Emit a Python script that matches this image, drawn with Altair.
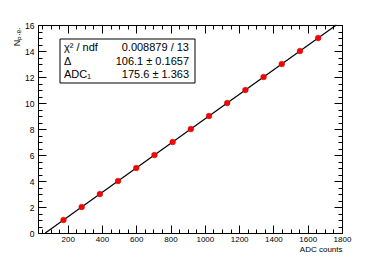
import altair as alt
import pandas as pd

# Data
n_pe = [1, 2, 3, 4, 5, 6, 7, 8, 9, 10, 11, 12, 13, 14, 15]
adc = [175.6, 281.7, 387.8, 493.9, 600.0, 706.1, 812.2, 918.3, 1024.4,
       1130.5, 1236.6, 1342.7, 1448.8, 1554.9, 1661.0]

fit_n = [0, 16]
fit_adc = [69.5, 1767.1]

x_major = [200, 400, 600, 800, 1000, 1200, 1400, 1600, 1800]
x_minor = [50, 100, 150, 200, 250, 300, 350, 400, 450, 500, 550, 600, 650, 700, 750,
           800, 850, 900, 950, 1000, 1050, 1100, 1150, 1200, 1250, 1300, 1350, 1400,
           1450, 1500, 1550, 1600, 1650, 1700, 1750, 1800]
y_major = [0, 2, 4, 6, 8, 10, 12, 14, 16]
y_minor = [0, 0.5, 1, 1.5, 2, 2.5, 3, 3.5, 4, 4.5, 5, 5.5, 6, 6.5, 7, 7.5, 8, 8.5, 9,
           9.5, 10, 10.5, 11, 11.5, 12, 12.5, 13, 13.5, 14, 14.5, 15, 15.5, 16]

stat_names = ["χ² / ndf", "Δ", "ADC₁"]
stat_values = ["0.008879 / 13", "106.1 ± 0.1657", "175.6 ± 1.363"]

W, H = 304, 208
FONT = "Liberation Sans"

df = pd.DataFrame({"adc": adc, "n": n_pe})
fit_df = pd.DataFrame({"adc": fit_adc, "n": fit_n})

xs = alt.Scale(domain=[27, 1800], nice=False, zero=False)
ys = alt.Scale(domain=[0, 16], nice=False, zero=False)

base = alt.Chart(df)

points = base.mark_circle(size=32, color="#ff0000", opacity=1,
                          stroke="#c00000", strokeWidth=0.5).encode(
    x=alt.X("adc:Q", scale=xs,
            axis=alt.Axis(orient="bottom", values=x_major, format="d", ticks=False,
                          tickSize=0, domain=False, grid=False, labelFont=FONT,
                          labelFontSize=8, labelColor="black", labelPadding=2,
                          labelFlush=False,
                          title="ADC counts", titleFont=FONT, titleFontSize=8,
                          titleFontWeight="normal", titleColor="black",
                          titleX=W, titleY=18, titleAlign="right",
                          titleBaseline="alphabetic", titleAnchor="end")),
    y=alt.Y("n:Q", scale=ys,
            axis=alt.Axis(orient="left", values=y_major, format="d", ticks=False,
                          tickSize=0, domain=False, grid=False, labelFont=FONT,
                          labelFontSize=8.5, labelColor="black", labelPadding=4,
                          labelFlush=False,
                          title="Nₚ.ₑ.", titleFont=FONT, titleFontSize=9,
                          titleFontWeight="normal", titleColor="black",
                          titleX=-22, titleY=2, titleAngle=270, titleAlign="right",
                          titleBaseline="middle")),
)

line = alt.Chart(fit_df).mark_line(color="black", strokeWidth=1.2).encode(
    x=alt.X("adc:Q", scale=xs, axis=None),
    y=alt.Y("n:Q", scale=ys, axis=None),
)


def tick_layer(xorient, yorient, xvals, yvals, size):
    return base.mark_point(opacity=0).encode(
        x=alt.X("adc:Q", scale=xs,
                axis=alt.Axis(orient=xorient, offset=-H, values=xvals, labels=False,
                              domain=False, grid=False, tickSize=size, tickColor="black",
                              tickWidth=1, title=None)),
        y=alt.Y("n:Q", scale=ys,
                axis=alt.Axis(orient=yorient, offset=-W, values=yvals, labels=False,
                              domain=False, grid=False, tickSize=size, tickColor="black",
                              tickWidth=1, title=None)),
    )


t1 = tick_layer("top", "right", x_major, y_major, 8)
t2 = tick_layer("bottom", "left", x_major, y_major, 8)
t3 = tick_layer("top", "right", x_minor, y_minor, 4)
t4 = tick_layer("bottom", "left", x_minor, y_minor, 4)

one = pd.DataFrame({"k": [0]})
box = alt.Chart(one).mark_rect(fill="white", stroke="black", strokeWidth=1).encode(
    x=alt.value(22), x2=alt.value(157), y=alt.value(14), y2=alt.value(58)
)

texts = []
row_y = [23, 36.5, 50]
for i in range(3):
    texts.append(alt.Chart(one).mark_text(font=FONT, fontSize=11, align="left",
                                          baseline="middle", color="black",
                                          text=stat_names[i]).encode(
        x=alt.value(26), y=alt.value(row_y[i])))
    texts.append(alt.Chart(one).mark_text(font=FONT, fontSize=11, align="right",
                                          baseline="middle", color="black",
                                          text=stat_values[i]).encode(
        x=alt.value(151), y=alt.value(row_y[i])))

chart = alt.layer(t3, t4, t1, t2, line, points, box, *texts).resolve_axis(
    x="independent", y="independent"
).properties(
    width=W, height=H,
    autosize=alt.AutoSizeParams(type="none"),
    padding={"left": 30, "top": 17, "right": 31, "bottom": 19},
    background="white",
).configure_view(stroke="black", strokeWidth=1)

chart.save("out.html", embed_options={"renderer": "svg", "actions": False})
